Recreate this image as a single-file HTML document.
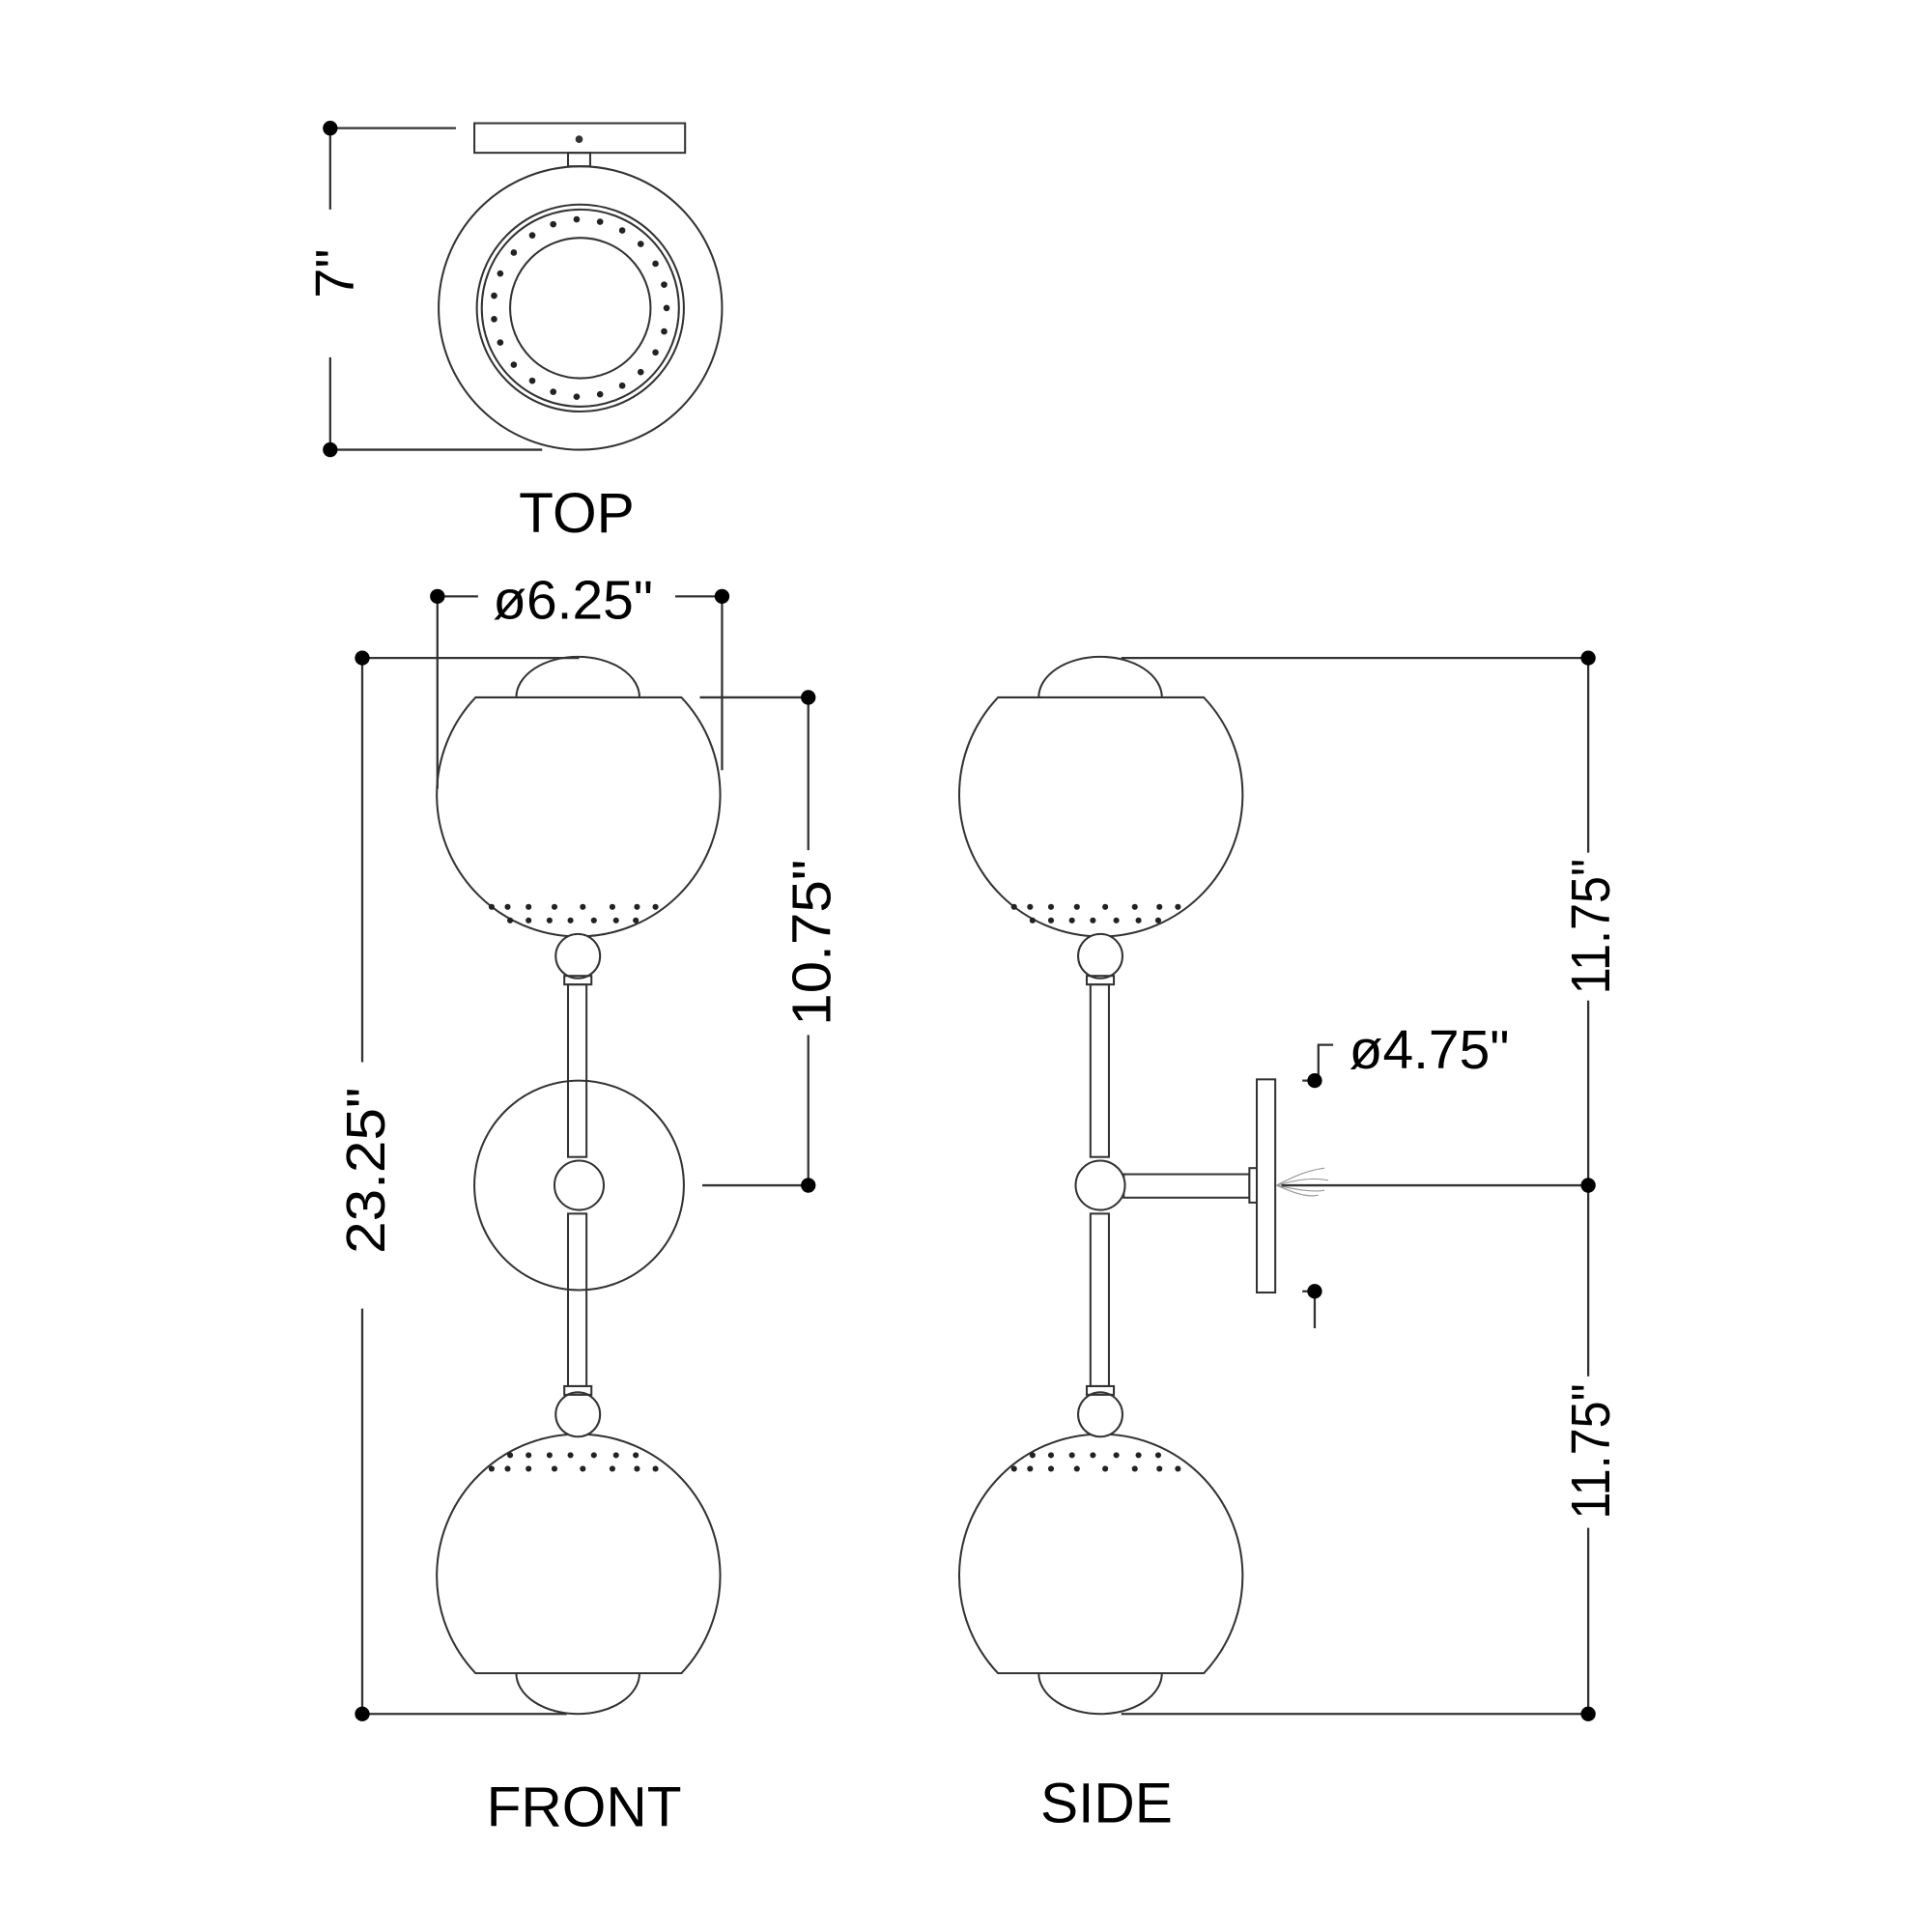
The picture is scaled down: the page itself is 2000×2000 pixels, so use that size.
<!DOCTYPE html>
<html><head><meta charset="utf-8"><style>html,body{margin:0;padding:0;background:#fff}svg{display:block}</style></head>
<body>
<svg width="2000" height="2000" viewBox="0 0 1568 1568" xmlns="http://www.w3.org/2000/svg" font-family="Liberation Sans, sans-serif">
<defs>
<g id="holesTop" fill="#222">
<circle cx="-70" cy="0" r="2.4"/><circle cx="-57" cy="0" r="2.4"/><circle cx="-40" cy="0" r="2.4"/><circle cx="-19" cy="0" r="2.4"/><circle cx="4" cy="0" r="2.4"/><circle cx="28" cy="0" r="2.4"/><circle cx="48" cy="0" r="2.4"/><circle cx="63" cy="0" r="2.4"/>
<circle cx="-55" cy="11" r="2.4"/><circle cx="-40" cy="11" r="2.4"/><circle cx="-23" cy="11" r="2.4"/><circle cx="-6" cy="11" r="2.4"/><circle cx="13" cy="11" r="2.4"/><circle cx="31" cy="11" r="2.4"/><circle cx="47" cy="11" r="2.4"/>
</g>
<g id="lamp" fill="none" stroke="#333" stroke-width="1.6">
<path d="M386,566 A115,115 0 1 0 553,566 Z" fill="#fff"/>
<path d="M419,566 A50,33 0 0 1 519,566"/>
<use href="#holesTop" x="469" y="736" stroke="none"/>
<circle cx="469" cy="776" r="18" fill="#fff"/>
<rect x="458" y="792" width="22" height="7"/>
<rect x="461" y="799" width="15" height="140"/>
<path d="M386,1358 A115,115 0 1 1 553,1358 Z" fill="#fff"/>
<path d="M419,1358 A50,33 0 0 0 519,1358"/>
<use href="#holesTop" x="469" y="1190" transform="translate(0,2382) scale(1,-1)" stroke="none"/>
<circle cx="469" cy="1148" r="18" fill="#fff"/>
<rect x="458" y="1125" width="22" height="7"/>
<rect x="461" y="985" width="15" height="140"/>
</g>
</defs>

<g fill="none" stroke="#333" stroke-width="1.6">
<rect x="385" y="100" width="171" height="24"/>
<rect x="461" y="124" width="18" height="11"/>
<circle cx="471" cy="250" r="115"/>
<circle cx="471" cy="250" r="84"/>
<circle cx="471" cy="250" r="80"/>
<circle cx="471" cy="250" r="57"/>
</g>
<circle cx="470" cy="113" r="3" fill="#333"/>
<g fill="#222">
<circle cx="541" cy="250" r="2.6"/><circle cx="539" cy="269" r="2.6"/><circle cx="532" cy="286" r="2.6"/><circle cx="520" cy="302" r="2.6"/><circle cx="505" cy="313" r="2.6"/><circle cx="487" cy="320" r="2.6"/><circle cx="468" cy="322" r="2.6"/><circle cx="449" cy="318" r="2.6"/><circle cx="432" cy="309" r="2.6"/><circle cx="417" cy="296" r="2.6"/><circle cx="406" cy="278" r="2.6"/><circle cx="401" cy="259" r="2.6"/><circle cx="401" cy="240" r="2.6"/><circle cx="406" cy="222" r="2.6"/><circle cx="417" cy="205" r="2.6"/><circle cx="432" cy="191" r="2.6"/><circle cx="449" cy="182" r="2.6"/><circle cx="468" cy="178" r="2.6"/><circle cx="487" cy="180" r="2.6"/><circle cx="505" cy="187" r="2.6"/><circle cx="520" cy="198" r="2.6"/><circle cx="532" cy="214" r="2.6"/><circle cx="539" cy="231" r="2.6"/>
</g>

<circle cx="470" cy="962" r="85" fill="none" stroke="#333" stroke-width="1.6"/>
<use href="#lamp"/>
<circle cx="470" cy="962" r="20" fill="#fff" stroke="#333" stroke-width="1.6"/>

<g transform="translate(424,0)"><use href="#lamp"/></g>
<g fill="#fff" stroke="#333" stroke-width="1.6">
<rect x="912" y="953" width="102" height="19"/>
<rect x="1014" y="948" width="6" height="28"/>
<rect x="1020" y="876" width="15" height="173"/>
<circle cx="893" cy="962" r="20"/>
</g>
<g fill="none" stroke="#999" stroke-width="0.9">
<path d="M1036,962 C1050,955 1060,950 1075,948"/><path d="M1036,962 C1050,958 1065,955 1078,958"/><path d="M1036,962 C1050,965 1065,968 1075,966"/><path d="M1036,962 C1050,968 1060,972 1070,970"/>
</g>

<g stroke="#333" stroke-width="1.8" fill="none">
<path d="M268,104 H370 M268,365 H440 M268,104 V170 M268,290 V365"/>
<path d="M355,484 H388 M548,484 H586 M355,484 V640 M586,484 V625"/>
<path d="M294,534 H470 M294,1391 H460 M294,534 V862 M294,1062 V1391"/>
<path d="M568,566 H656 M570,962 H656 M656,566 V690 M656,840 V962"/>
<path d="M910,534 H1289 M910,1391 H1289 M1289,534 V692 M1289,812 V1117 M1289,1240 V1391 M1040,962 H1289"/>
<path d="M1070,877 V848 H1082 M1057,877 H1067 M1057,1048 H1067 M1067,1048 V1078"/>
</g>
<g fill="#000">
<circle cx="268" cy="104" r="6"/><circle cx="268" cy="365" r="6"/>
<circle cx="355" cy="484" r="6"/><circle cx="586" cy="484" r="6"/>
<circle cx="294" cy="534" r="6"/><circle cx="294" cy="1391" r="6"/>
<circle cx="656" cy="566" r="6"/><circle cx="656" cy="962" r="6"/>
<circle cx="1289" cy="534" r="6"/><circle cx="1289" cy="962" r="6"/><circle cx="1289" cy="1391" r="6"/>
<circle cx="1067" cy="877" r="6"/><circle cx="1067" cy="1048" r="6"/>
</g>

<g fill="#000" font-size="44">
<text x="468" y="432" text-anchor="middle" font-size="46">TOP</text>
<text x="474" y="1482" text-anchor="middle" font-size="46">FRONT</text>
<text x="898" y="1479" text-anchor="middle" font-size="46">SIDE</text>
<text x="465" y="502" text-anchor="middle" textLength="130" lengthAdjust="spacingAndGlyphs">ø6.25"</text>
<text x="1160" y="867" text-anchor="middle" textLength="130" lengthAdjust="spacingAndGlyphs">ø4.75"</text>
<text transform="translate(287,222) rotate(-90)" text-anchor="middle">7"</text>
<text transform="translate(312,950) rotate(-90)" text-anchor="middle" textLength="135" lengthAdjust="spacingAndGlyphs">23.25"</text>
<text transform="translate(674,765) rotate(-90)" text-anchor="middle" textLength="135" lengthAdjust="spacingAndGlyphs">10.75"</text>
<text transform="translate(1306,752) rotate(-90)" text-anchor="middle" textLength="110" lengthAdjust="spacingAndGlyphs">11.75"</text>
<text transform="translate(1306,1178) rotate(-90)" text-anchor="middle" textLength="110" lengthAdjust="spacingAndGlyphs">11.75"</text>
</g>
</svg>
</body></html>
